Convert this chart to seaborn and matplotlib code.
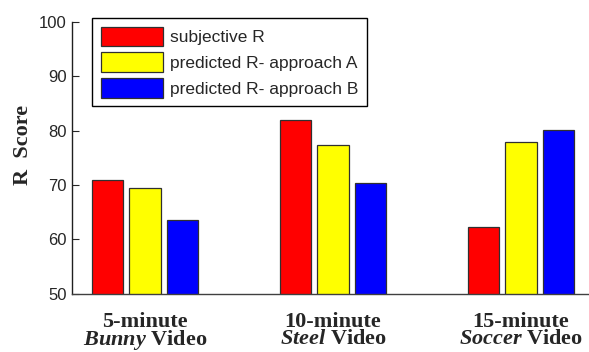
import matplotlib
matplotlib.use("Agg")
import matplotlib.pyplot as plt
import seaborn as sns
import pandas as pd

# Data
videos = ["Bunny", "Steel", "Soccer"]
durations = ["5-minute", "10-minute", "15-minute"]
series = ["subjective R", "predicted R- approach A", "predicted R- approach B"]
subjective = [71.0, 82.0, 62.2]
approach_a = [69.5, 77.4, 77.9]
approach_b = [63.5, 70.3, 80.2]
yticks = [50, 60, 70, 80, 90, 100]
colors = ["#ff0000", "#ffff00", "#0000ff"]

rows = []
for name, vals in zip(series, [subjective, approach_a, approach_b]):
    for v, val in zip(videos, vals):
        rows.append({"video": v, "series": name, "score": val})
df = pd.DataFrame(rows)

sns.set_style("white")
plt.rcParams["mathtext.fontset"] = "custom"
plt.rcParams["mathtext.it"] = "Liberation Serif:italic:bold"
plt.rcParams["mathtext.rm"] = "Liberation Serif:bold"

fig = plt.figure(figsize=(5.89, 3.52), dpi=100)
ax = fig.add_axes([72 / 589, 1 - 293.7 / 352, 1 - 72 / 589, (293.7 - 22) / 352])

sns.barplot(data=df, x="video", y="score", hue="series", order=videos,
            hue_order=series, palette=colors, saturation=1, width=0.6,
            gap=0.17, edgecolor="#303030", linewidth=0.9, ax=ax)

ax.set_ylim(50, 100)
ax.set_xlim(-0.388, 2.362)
ax.set_yticks(yticks)
ax.set_yticklabels([str(t) for t in yticks], fontfamily="Liberation Sans",
                   fontsize=12)
ax.tick_params(axis="y", direction="in", length=5, width=0.8, pad=4,
               left=True)
ax.tick_params(axis="x", bottom=False, labelbottom=False)
ax.set_xlabel("")

for s in ["top", "right"]:
    ax.spines[s].set_visible(False)
ax.spines["left"].set_color("#202020")
ax.spines["bottom"].set_color("#404040")
ax.spines["left"].set_linewidth(1.0)
ax.spines["bottom"].set_linewidth(1.0)

ax.set_ylabel("R  Score", fontfamily="Liberation Serif", fontweight="bold",
              fontsize=16)
ax.yaxis.set_label_coords(-0.075, 0.546)

# Two-line category labels under each group
trans = ax.get_xaxis_transform()
for i, (d, v) in enumerate(zip(durations, videos)):
    ax.text(i, -0.066, d + "\n" + r"$\mathit{" + v + "}$ Video",
            transform=trans, ha="center", va="top", multialignment="center",
            linespacing=0.8, fontfamily="Liberation Serif",
            fontweight="bold", fontsize=16)

leg = ax.legend(loc="upper left", bbox_to_anchor=(0.0387, 1.015),
                frameon=True, fancybox=False, edgecolor="black",
                prop={"family": "Liberation Sans", "size": 12.5},
                handlelength=3.6, handleheight=1.33, handletextpad=0.4,
                labelspacing=0.38, borderpad=0.5, borderaxespad=0)
leg.get_frame().set_linewidth(1.0)
leg.get_frame().set_alpha(1)

fig.savefig("out.png", dpi=100)
